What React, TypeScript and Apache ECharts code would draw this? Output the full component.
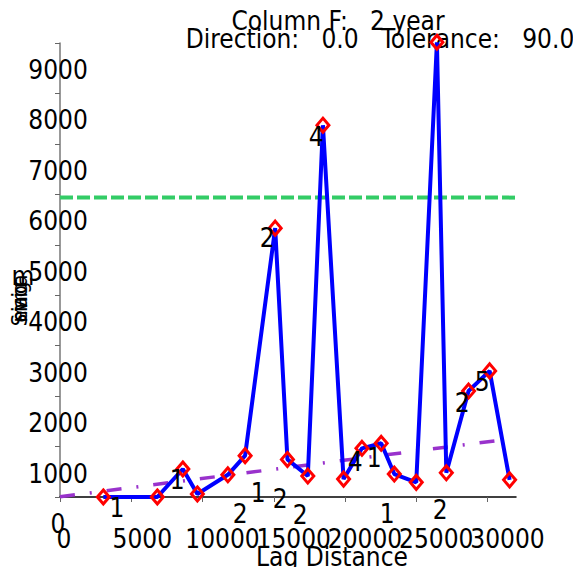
import React, { useEffect, useRef } from "react";
import * as echarts from "echarts";

// Experimental variogram (lag distance, semivariance)
const lagX = [3040, 6830, 8620, 9640, 11780, 12990, 15100, 15960, 17390, 18450, 19900, 21190, 22540, 23460, 25000, 26450, 27110, 28670, 30150, 31550];
const gammaY = [0, 0, 555, 60, 440, 820, 5330, 745, 415, 7370, 355, 965, 1065, 455, 290, 9015, 480, 2100, 2500, 340];

// Pair count labels (placed in data space as in the reference)
const pairLabelX = [4000, 8220, 12640, 13900, 15450, 16850, 14540, 17980, 20720, 22050, 22960, 26680, 28230, 29630];
const pairLabelY = [-220, 335, -340, 80, -40, -355, 5130, 7130, 695, 770, -340, -255, 1860, 2280];
const pairLabelText = ["1", "1", "2", "1", "2", "2", "2", "4", "4", "1", "1", "2", "2", "5"];

// Model line and sill
const modelX = [0, 31000];
const modelY = [5, 1130];
const sillValue = 5935;

const xMax = 32000;
const xTicks = [0, 5000, 10000, 15000, 20000, 25000, 30000];
const yTicks = [0, 1000, 2000, 3000, 4000, 5000, 6000, 7000, 8000, 9000];

const titleLine1 = "Column F:   2 year";
const titleLine2 = "Direction:   0.0   Tolerance:   90.0";
const xName = "Lag Distance";
const yNameChars = ["S", "e", "m", "i", "v", "a", "r", "i", "o", "g", "r", "a"];

const FONT = '"DejaVu Sans Condensed", "DejaVu Sans", sans-serif';

export default function App() {
  const ref = useRef<HTMLDivElement>(null);
  useEffect(() => {
    if (!ref.current) return;
    const chart = echarts.init(ref.current, undefined, { renderer: "svg" });

    const centered = { align: "center", verticalAlign: "middle", textAlign: "center", textVerticalAlign: "middle" };
    const yNameGraphics: any[] = [
      { type: "text", x: 23, y: 276, style: { text: "m", font: `26px ${FONT}`, fill: "#000", ...centered } },
    ];
    yNameChars.forEach((c, i) => {
      yNameGraphics.push({
        type: "text",
        x: 19,
        y: 320 - i * 3.6,
        rotation: Math.PI / 2,
        style: { text: c, font: `22px ${FONT}`, fill: "#000", ...centered },
      });
    });

    const labelRich = {
      s: { padding: [0, 0, 0, 8], fontSize: 26, fontFamily: FONT, color: "#000" },
      m: { padding: [0, 0, 0, 22], fontSize: 26, fontFamily: FONT, color: "#000" },
      l: { padding: [0, 0, 0, 40], fontSize: 26, fontFamily: FONT, color: "#000" },
    };

    chart.setOption({
      animation: false,
      grid: { left: 60, right: 57, top: 43, bottom: 70, containLabel: false },
      xAxis: {
        type: "value",
        min: 0,
        max: xMax,
        interval: 5000,
        axisLine: { show: true, onZero: false, lineStyle: { color: "#000", width: 1.5 } },
        axisTick: { show: true, length: 5, customValues: xTicks, lineStyle: { color: "#666", width: 1 } },
        axisLabel: {
          customValues: [...xTicks, xMax],
          margin: 29,
          verticalAlign: "top",
          align: "center",
          fontSize: 26,
          fontFamily: FONT,
          color: "#000",
          formatter: (v: number) => {
            if (v === xMax) return "";
            const s = String(v);
            const k = s.length >= 5 ? "l" : s.length === 4 ? "m" : "s";
            return `{${k}|${s}}`;
          },
          rich: labelRich,
        },
        splitLine: { show: false },
      },
      yAxis: {
        type: "value",
        min: 0,
        max: 9000,
        interval: 1000,
        axisLine: { show: true, onZero: false, lineStyle: { color: "#777", width: 1.5 } },
        axisTick: { show: true, length: 5, customValues: yTicks, lineStyle: { color: "#666", width: 1 } },
        axisLabel: {
          customValues: yTicks,
          margin: 2,
          align: "center",
          verticalAlign: "top",
          lineHeight: 26,
          padding: [14, 0, 0, 0],
          fontSize: 26,
          fontFamily: FONT,
          color: "#000",
          formatter: (v: number) => String(v),
        },
        splitLine: { show: false },
      },
      graphic: [
        { type: "text", x: 338, y: 21, style: { text: titleLine1, font: `26px ${FONT}`, fill: "#000", ...centered } },
        { type: "text", x: 380, y: 39, style: { text: titleLine2, font: `26px ${FONT}`, fill: "#000", ...centered } },
        { type: "text", x: 332, y: 557, style: { text: xName, font: `26px ${FONT}`, fill: "#000", ...centered } },
        ...yNameGraphics,
      ],
      series: [
        {
          name: "sill",
          type: "line",
          data: [[0, sillValue], [xMax, sillValue]],
          symbol: "none",
          clip: false,
          lineStyle: { color: "#33cc66", width: 4, type: [13, 4] },
          z: 1,
        },
        {
          name: "model",
          type: "line",
          data: modelX.map((x, i) => [x, modelY[i]]),
          symbol: "none",
          clip: false,
          lineStyle: { color: "#9932cc", width: 3.5, type: [15, 15, 2, 15] },
          z: 2,
        },
        {
          name: "variogram",
          type: "line",
          data: lagX.map((x, i) => [x, gammaY[i]]),
          symbol: "diamond",
          symbolSize: [12, 14],
          clip: false,
          lineStyle: { color: "#0000ff", width: 4 },
          itemStyle: { color: "rgba(255,255,255,0)", borderColor: "#ff0000", borderWidth: 3 },
          z: 3,
        },
        {
          name: "pairs",
          type: "scatter",
          data: pairLabelX.map((x, i) => [x, pairLabelY[i], pairLabelText[i]]),
          symbol: "circle",
          symbolSize: 0,
          clip: false,
          silent: true,
          label: {
            show: true,
            position: "inside",
            formatter: (p: any) => p.data[2],
            fontSize: 26,
            fontFamily: FONT,
            color: "#000",
            opacity: 1,
            textBorderWidth: 0,
          },
          z: 4,
        },
      ],
    });
    return () => chart.dispose();
  }, []);
  return <div ref={ref} style={{ width: 573, height: 567, position: "absolute", left: 0, top: 0 }} />;
}
